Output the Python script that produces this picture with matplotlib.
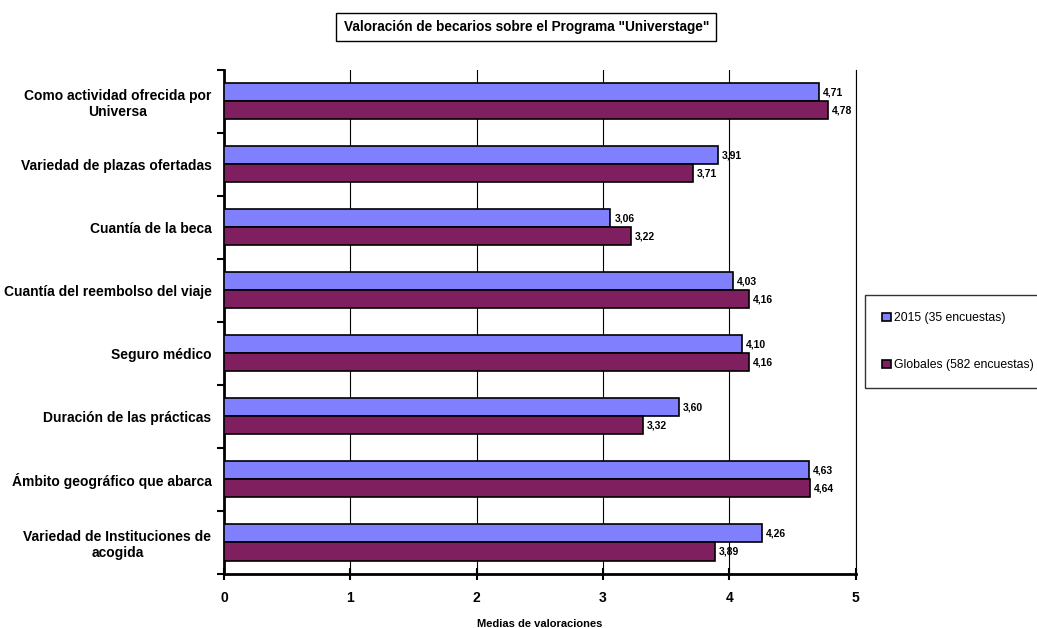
import matplotlib
import matplotlib.pyplot as plt
import numpy as np

matplotlib.use('Agg')

categories = [
    'Como actividad ofrecida por\nUniversa',
    'Variedad de plazas ofertadas',
    'Cuantía de la beca',
    'Cuantía del reembolso del viaje',
    'Seguro médico',
    'Duración de las prácticas',
    'Ámbito geográfico que abarca',
    'Variedad de Instituciones de\nacogida',
]
valores_2015 = [4.71, 3.91, 3.06, 4.03, 4.10, 3.60, 4.63, 4.26]
valores_globales = [4.78, 3.71, 3.22, 4.16, 4.16, 3.32, 4.64, 3.89]
series_names = ['2015 (35 encuestas)', 'Globales (582 encuestas)']
x_ticks = [0, 1, 2, 3, 4, 5]

plt.rcParams['font.family'] = ['Liberation Sans Narrow', 'Liberation Sans', 'DejaVu Sans']

fig = plt.figure(figsize=(10.37, 6.28), dpi=100)
ax = fig.add_axes([0.216, 0.086, 0.609, 0.803])

n = len(categories)
y = np.arange(n)
h = 0.286
b1 = ax.barh(y - h / 2, valores_2015, height=h, color='#8080ff',
             edgecolor='black', linewidth=1.2, label=series_names[0], zorder=3)
b2 = ax.barh(y + h / 2, valores_globales, height=h, color='#7f1f5f',
             edgecolor='black', linewidth=1.2, label=series_names[1], zorder=3)

for bars, vals in [(b1, valores_2015), (b2, valores_globales)]:
    for bar, v in zip(bars, vals):
        ax.text(bar.get_width() + 0.03, bar.get_y() + bar.get_height() / 2,
                f'{v:.2f}'.replace('.', ','), va='center', ha='left',
                fontsize=7.5, fontweight='bold', zorder=4)

ax.set_ylim(n - 0.5, -0.5)
ax.set_xlim(0, 5)
ax.set_xticks(x_ticks)
ax.set_xticklabels([str(t) for t in x_ticks], fontsize=10, fontweight='bold')
ax.tick_params(axis='x', direction='inout', length=8, width=1.5, pad=8)

ax.set_yticks(y)
ax.set_yticklabels(categories, fontsize=10, fontweight='bold', ha='right',
                   multialignment='center')
ax.tick_params(axis='y', length=0, pad=9)
ax.set_yticks(np.arange(n + 1) - 0.5, minor=True)
ax.tick_params(axis='y', which='minor', direction='out', length=5, width=1.5)

ax.grid(axis='x', color='black', linewidth=0.8, zorder=0)
ax.set_axisbelow(True)
ax.spines['top'].set_visible(False)
ax.spines['right'].set_linewidth(0.8)
ax.spines['left'].set_linewidth(2)
ax.spines['bottom'].set_linewidth(2)

ax.set_xlabel('Medias de valoraciones', fontsize=8, fontweight='bold', labelpad=10)

fig.text(0.5075, 0.957, 'Valoración de becarios sobre el Programa "Universtage"',
         ha='center', va='center', fontsize=9.8, fontweight='bold',
         bbox=dict(boxstyle='square,pad=0.55', facecolor='white', edgecolor='black', linewidth=1))

leg = fig.legend(loc='upper left', bbox_to_anchor=(0.834, 0.530), frameon=True,
                 fancybox=False, edgecolor='black', fontsize=8.8, handlelength=0.7,
                 handleheight=0.7, handletextpad=0.3, labelspacing=2.85,
                 borderpad=1.4, borderaxespad=0)
leg.get_frame().set_linewidth(1)

plt.savefig('out.png', dpi=100)
plt.close()
